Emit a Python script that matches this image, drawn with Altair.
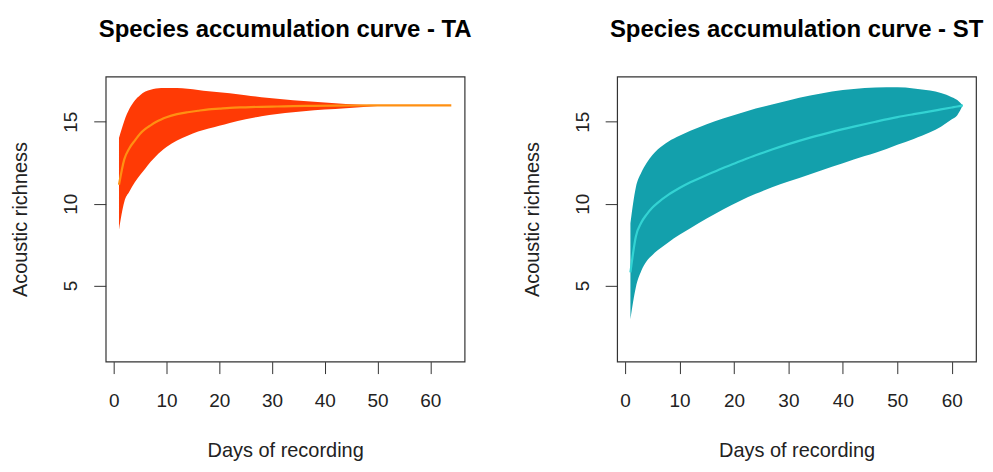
import altair as alt
import pandas as pd

# ---- TA panel data (days of recording vs acoustic richness) ----
ta_days  = [1, 2, 3, 4, 5, 6, 7, 8, 9, 10, 12, 14, 16, 18, 20, 22, 25, 28, 31, 34, 38, 42, 46, 50, 54, 58, 64]
ta_mean  = [11.15, 12.7, 13.4, 13.85, 14.27, 14.56, 14.78, 14.98, 15.14, 15.27, 15.46, 15.58, 15.67, 15.75,
            15.8, 15.85, 15.88, 15.91, 15.93, 15.95, 15.97, 15.98, 15.99, 16.0, 16.0, 16.0, 16.0]
ta_upper = [14.0, 15.05, 15.8, 16.3, 16.62, 16.84, 16.95, 17.02, 17.05, 17.06, 17.05, 17.01, 16.94, 16.86,
            16.8, 16.74, 16.62, 16.5, 16.4, 16.31, 16.22, 16.13, 16.05, 16.01, 16.0, 16.0, 16.0]
ta_lower = [8.4, 10.1, 10.75, 11.3, 11.75, 12.15, 12.55, 12.9, 13.2, 13.45, 13.85, 14.15, 14.4, 14.58,
            14.75, 14.92, 15.15, 15.33, 15.47, 15.57, 15.7, 15.78, 15.87, 15.96, 16.0, 16.0, 16.0]

# ---- ST panel data ----
st_days  = [1, 2, 3, 4, 5, 6, 8, 10, 12, 15, 18, 21, 24, 27, 30, 34, 38, 42, 46, 50, 53, 56, 58, 60, 61, 62]
st_mean  = [5.8, 8.0, 8.85, 9.35, 9.75, 10.05, 10.55, 10.95, 11.3, 11.75, 12.18, 12.57, 12.95, 13.3, 13.63,
            14.03, 14.38, 14.7, 15.0, 15.28, 15.46, 15.63, 15.75, 15.87, 15.93, 16.0]
st_upper = [8.8, 11.0, 11.9, 12.5, 12.95, 13.3, 13.8, 14.15, 14.45, 14.85, 15.2, 15.5, 15.8, 16.05, 16.3,
            16.6, 16.85, 17.0, 17.09, 17.1, 17.03, 16.9, 16.75, 16.5, 16.33, 16.0]
st_lower = [2.95, 4.9, 5.9, 6.5, 6.85, 7.15, 7.65, 8.1, 8.5, 9.1, 9.65, 10.15, 10.6, 11.0, 11.35,
            11.8, 12.25, 12.7, 13.1, 13.6, 13.95, 14.35, 14.7, 15.15, 15.4, 16.0]

x_ticks = [0, 10, 20, 30, 40, 50, 60]
y_ticks = [5, 10, 15]
FONT = "Liberation Sans"
AXIS_COLOR = "#333333"


def panel(days, lower, upper, mean, fill, line, title):
    df = pd.DataFrame({"day": days, "lower": lower, "upper": upper, "mean": mean})
    span = max(days) - min(days)
    xdom = [min(days) - 0.04 * span, max(days) + 0.04 * span]
    xs = alt.Scale(domain=xdom, nice=False, zero=False)
    ys = alt.Scale(domain=[0.36, 17.76], nice=False, zero=False)
    xaxis = alt.Axis(values=x_ticks, title="Days of recording", grid=False, domain=False,
                     tickSize=12, tickColor=AXIS_COLOR, labelFontSize=19, labelFont=FONT,
                     labelColor="#222", labelBaseline="alphabetic", labelPadding=33,
                     titleFont=FONT, titleFontSize=20, titleFontWeight="normal", titleColor="#222",
                     titleBaseline="alphabetic", titleY=95, labelFlush=False)
    yaxis = alt.Axis(values=y_ticks, title="Acoustic richness", grid=False, domain=False,
                     tickSize=12, tickColor=AXIS_COLOR, labelFontSize=19, labelFont=FONT,
                     labelColor="#222", labelAngle=-90, labelAlign="center",
                     labelBaseline="alphabetic", labelPadding=17, labelFlush=False,
                     titleFont=FONT, titleFontSize=20, titleFontWeight="normal", titleColor="#222",
                     titleAngle=-90, titleBaseline="alphabetic", titleX=-79, titleAlign="center")
    band = alt.Chart(df).mark_area(color=fill, opacity=1, interpolate="monotone").encode(
        x=alt.X("day:Q", scale=xs, axis=xaxis),
        y=alt.Y("lower:Q", scale=ys, axis=yaxis),
        y2="upper:Q",
    )
    ln = alt.Chart(df).mark_line(color=line, strokeWidth=2.2, interpolate="monotone").encode(
        x=alt.X("day:Q", scale=xs),
        y=alt.Y("mean:Q", scale=ys),
    )
    return alt.layer(band, ln).properties(
        width=360, height=286,
        title=alt.TitleParams(title, font=FONT, fontSize=24, fontWeight="bold", color="black",
                              anchor="middle", baseline="alphabetic", offset=16),
    )


left = panel(ta_days, ta_lower, ta_upper, ta_mean, "#FF3A05", "#FF9012",
             "Species accumulation curve - TA")
right = panel(st_days, st_lower, st_upper, st_mean, "#13A0AC", "#33D3D3",
              "Species accumulation curve - ST")

chart = alt.hconcat(left, right, spacing=153, bounds="flush").properties(
    padding={"left": 2, "top": 8, "right": 0, "bottom": 0},
    background="white",
).configure_view(stroke=AXIS_COLOR, strokeWidth=1.2)

chart.save("out.html", embed_options={"renderer": "svg", "actions": False})
